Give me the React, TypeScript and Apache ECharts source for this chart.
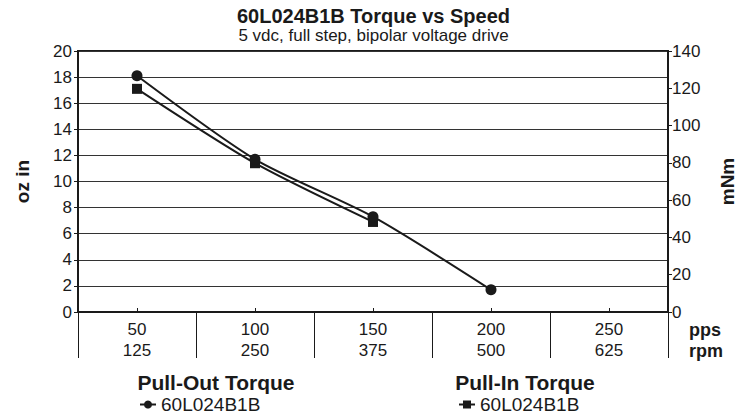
import React, { useEffect, useRef } from 'react';
import * as echarts from 'echarts';

const ppsLabels = ['50', '100', '150', '200', '250'];
const rpmLabels = ['125', '250', '375', '500', '625'];
const pullOutTorque = [18.1, 11.7, 7.3, 1.7, null];
const pullInTorque = [17.1, 11.4, 6.9, null, null];
const ozInRange = { min: 0, max: 20, interval: 2 };
const mNmRange = { min: 0, max: 140, interval: 20 };

const FONT = '"Liberation Sans", Arial, sans-serif';
const INK = '#1a1a1a';

export default function App() {
  const ref = useRef<HTMLDivElement>(null);
  useEffect(() => {
    if (!ref.current) return;
    const chart = echarts.init(ref.current, undefined, { renderer: 'svg' });
    chart.setOption({
      animation: false,
      backgroundColor: '#ffffff',
      textStyle: { fontFamily: FONT, color: INK },
      title: [
        {
          text: '60L024B1B Torque vs Speed',
          left: 'center',
          top: 6,
          padding: 0,
          textStyle: { fontFamily: FONT, fontSize: 20, fontWeight: 'bold', color: INK },
        },
        {
          text: '5 vdc, full step, bipolar voltage drive',
          left: 'center',
          top: 27,
          padding: 0,
          textStyle: { fontFamily: FONT, fontSize: 17, fontWeight: 'normal', color: INK },
        },
      ],
      grid: {
        left: 78,
        right: 79,
        top: 51,
        bottom: 102,
        show: true,
        borderColor: INK,
        borderWidth: 2,
        backgroundColor: 'transparent',
      },
      legend: [
        {
          data: ['Pull-Out'],
          left: 139,
          top: 395,
          padding: 0,
          itemWidth: 16,
          itemHeight: 10,
          itemGap: 4,
          formatter: () => '60L024B1B',
          textStyle: { fontFamily: FONT, fontSize: 19, lineHeight: 19, color: INK },
          selectedMode: false,
        },
        {
          data: ['Pull-In'],
          left: 458,
          top: 395,
          padding: 0,
          itemWidth: 16,
          itemHeight: 10,
          itemGap: 4,
          formatter: () => '60L024B1B',
          textStyle: { fontFamily: FONT, fontSize: 19, lineHeight: 19, color: INK },
          selectedMode: false,
        },
      ],
      xAxis: [
        {
          type: 'category',
          data: ppsLabels,
          boundaryGap: true,
          axisLine: { show: true, lineStyle: { color: INK, width: 2 } },
          axisTick: { show: true, length: 46, interval: 0, lineStyle: { color: INK, width: 1 } },
          axisLabel: {
            interval: 0,
            margin: 7,
            fontFamily: FONT,
            fontSize: 17,
            lineHeight: 21,
            color: INK,
            formatter: (v: string, i: number) => `${v}\n${rpmLabels[i]}`,
          },
          splitLine: { show: false },
        },
        {
          type: 'category',
          data: ppsLabels,
          position: 'bottom',
          boundaryGap: true,
          axisLine: { show: false },
          axisTick: { show: true, alignWithLabel: true, inside: true, length: 4, lineStyle: { color: INK } },
          axisLabel: { show: false },
          splitLine: { show: false },
        },
      ],
      yAxis: [
        {
          type: 'value',
          position: 'left',
          ...ozInRange,
          name: 'oz in',
          nameLocation: 'middle',
          nameRotate: 90,
          nameGap: 46,
          nameTextStyle: { fontFamily: FONT, fontSize: 19, fontWeight: 'bold', color: INK },
          axisLine: { show: true, lineStyle: { color: INK, width: 2 } },
          axisTick: { show: true, length: 4, lineStyle: { color: INK } },
          axisLabel: { fontFamily: FONT, fontSize: 17, color: INK, margin: 6 },
          splitLine: { show: true, lineStyle: { color: '#333', width: 1 } },
        },
        {
          type: 'value',
          position: 'right',
          ...mNmRange,
          name: 'mNm',
          nameLocation: 'middle',
          nameRotate: 90,
          nameGap: 50,
          nameTextStyle: { fontFamily: FONT, fontSize: 19, fontWeight: 'bold', color: INK },
          axisLine: { show: true, lineStyle: { color: INK, width: 2 } },
          axisTick: { show: true, length: 4, lineStyle: { color: INK } },
          axisLabel: { fontFamily: FONT, fontSize: 17, color: INK, margin: 4 },
          splitLine: { show: false },
        },
      ],
      series: [
        {
          name: 'Pull-Out',
          type: 'line',
          xAxisIndex: 0,
          yAxisIndex: 0,
          data: pullOutTorque,
          smooth: 0.25,
          symbol: 'circle',
          symbolSize: 11,
          lineStyle: { color: INK, width: 2 },
          itemStyle: { color: INK },
          z: 3,
        },
        {
          name: 'Pull-In',
          type: 'line',
          xAxisIndex: 0,
          yAxisIndex: 0,
          data: pullInTorque,
          smooth: 0.25,
          symbol: 'rect',
          symbolSize: 10,
          lineStyle: { color: INK, width: 2 },
          itemStyle: { color: INK },
          z: 2,
        },
      ],
      graphic: [
        {
          type: 'text',
          x: 216,
          y: 382,
          style: {
            text: 'Pull-Out Torque',
            fontFamily: FONT,
            fontSize: 21,
            fontWeight: 'bold',
            fill: INK,
            textAlign: 'center',
            textVerticalAlign: 'middle',
          },
        },
        {
          type: 'text',
          x: 525,
          y: 382,
          style: {
            text: 'Pull-In Torque',
            fontFamily: FONT,
            fontSize: 21,
            fontWeight: 'bold',
            fill: INK,
            textAlign: 'center',
            textVerticalAlign: 'middle',
          },
        },
        {
          type: 'text',
          x: 689,
          y: 330,
          style: {
            text: 'pps',
            fontFamily: FONT,
            fontSize: 18,
            fontWeight: 'bold',
            fill: INK,
            textAlign: 'left',
            textVerticalAlign: 'middle',
          },
        },
        {
          type: 'text',
          x: 689,
          y: 351,
          style: {
            text: 'rpm',
            fontFamily: FONT,
            fontSize: 18,
            fontWeight: 'bold',
            fill: INK,
            textAlign: 'left',
            textVerticalAlign: 'middle',
          },
        },
      ],
    });
    return () => chart.dispose();
  }, []);
  return <div ref={ref} style={{ width: 747, height: 414, position: 'absolute', left: 0, top: 0 }} />;
}
